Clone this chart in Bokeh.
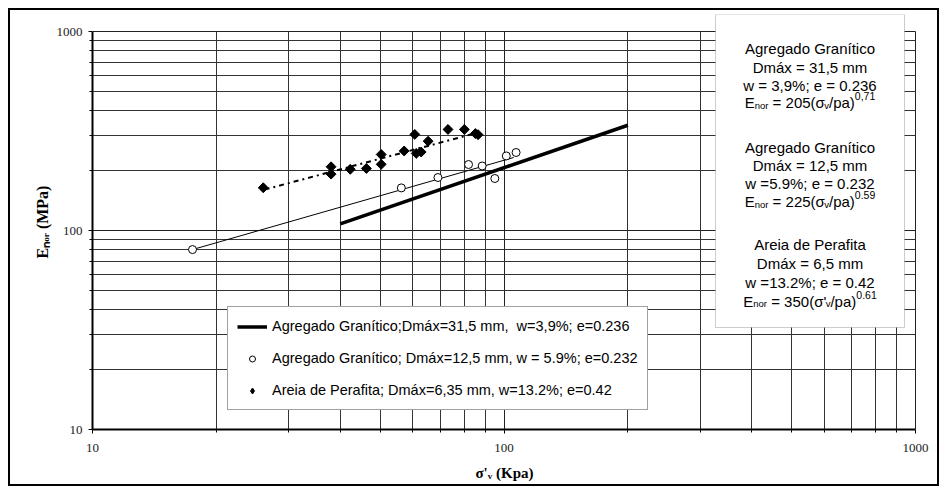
import math
from bokeh.plotting import figure
from bokeh.models import (FixedTicker, Label, BoxAnnotation, Legend, LegendItem, Range1d)
from bokeh.embed import file_html
from bokeh.resources import INLINE

# ---------------- data ----------------
circ_x = [17.5, 56.3, 69.1, 82.0, 88.5, 95.0, 101.3, 107.0]
circ_y = [80.2, 163.7, 184.6, 214.6, 211.0, 182.5, 237.0, 246.6]

diam_x = [26.0, 38.0, 38.0, 42.3, 46.3, 50.3, 50.3, 57.2, 60.7, 61.2, 62.9, 65.4, 73.1, 80.1, 85.2, 86.5]
diam_y = [164, 209, 192, 203, 205, 241, 215, 251, 304, 244, 248, 281, 322, 322, 307, 303]

thick_x = [40.0, 200.0]
thick_y = [108.0, 338.0]
thin_x = [17.5, 105.6]
thin_y = [80.2, 232.8]
dash_x = [26.2, 86.0]
dash_y = [160.6, 309.6]

major_ticks = [10, 100, 1000]
minor_ticks = [20, 30, 40, 50, 60, 70, 80, 90, 200, 300, 400, 500, 600, 700, 800, 900]
tick_labels = ["10", "100", "1000"]

x_title = "σ'ᵥ (Kpa)"
y_title = "Eₙₒᵣ (MPa)"

legend_labels = [
    "Agregado Granítico;Dmáx=31,5 mm,  w=3,9%; e=0.236",
    "Agregado Granítico; Dmáx=12,5 mm, w = 5.9%; e=0.232",
    "Areia de Perafita; Dmáx=6,35 mm, w=13.2%; e=0.42",
]

box_groups = [
    ["Agregado Granítico", "Dmáx = 31,5 mm", "w = 3,9%; e = 0.236",
     [("E", "n"), ("nor", "sub"), (" = 205(σ", "n"), ("v", "sub"), ("/pa)", "n"), ("0,71", "sup")]],
    ["Agregado Granítico", "Dmáx = 12,5 mm", "w =5.9%; e = 0.232",
     [("E", "n"), ("nor", "sub"), (" = 225(σ", "n"), ("v", "sub"), ("/pa)", "n"), ("0.59", "sup")]],
    ["Areia de Perafita", "Dmáx = 6,5 mm", "w =13.2%; e = 0.42",
     [("E", "n"), ("nor", "sub"), (" = 350(σ'", "n"), ("v", "sub"), ("/pa)", "n"), ("0.61", "sup")]],
]

# ---------------- layout constants ----------------
W, H = 947, 494
FL, FR, FB = 92, 916, 429          # frame left/right/bottom (canvas px)
FT = 14                            # frame top (room for the text box)
X10, X1000 = 92, 915               # pixel of x = 10 and x = 1000
Y1000 = 31                         # pixel of y = 1000
dec_x = (X1000 - X10) / 2.0
dec_y = (FB - Y1000) / 2.0
x_end = 10 ** (1 + (FR - X10) / dec_x)
y_end = 10 ** (1 + (FB - FT) / dec_y)

p = figure(width=W, height=H, x_axis_type="log", y_axis_type="log",
           x_range=Range1d(10, x_end), y_range=Range1d(10, y_end),
           output_backend="svg", toolbar_location=None,
           min_border_left=FL, min_border_right=W - FR,
           min_border_top=FT, min_border_bottom=H - FB)
p.background_fill_color = "white"
p.border_fill_color = None
p.outline_line_color = None
p.styles = {"background-color": "white",
            "box-shadow": "inset 0 0 0 8px white, inset 0 0 0 10px black"}

tk = FixedTicker(ticks=major_ticks, minor_ticks=minor_ticks)
for ax in (p.xaxis[0], p.yaxis[0]):
    ax.ticker = tk
    ax.bounds = (10, 1000)
    ax.axis_line_width = 2
    ax.axis_line_color = "black"
    ax.major_tick_out = 4
    ax.major_tick_in = 0
    ax.minor_tick_out = 3
    ax.minor_tick_in = 0
    ax.major_tick_line_color = "black"
    ax.minor_tick_line_color = "black"
    ax.major_label_text_font = "Liberation Serif"
    ax.major_label_text_font_size = "13px"
    ax.major_label_text_color = "#222222"
    ax.major_label_overrides = {t: s for t, s in zip(major_ticks, tick_labels)}
    ax.axis_label_text_font = "Liberation Serif"
    ax.axis_label_text_font_style = "bold"
    ax.axis_label_text_color = "black"
p.xaxis.major_label_standoff = 10
p.yaxis.major_label_standoff = 6
p.xaxis.axis_label = x_title
p.xaxis.axis_label_text_font_size = "15px"
p.xaxis.axis_label_standoff = 10
p.yaxis.axis_label = y_title
p.yaxis.axis_label_text_font_size = "16px"
p.yaxis.axis_label_standoff = 3

for g in (p.xgrid[0], p.ygrid[0]):
    g.ticker = tk
    g.grid_line_color = "#222222"
    g.grid_line_width = 1
    g.minor_grid_line_color = "#333333"
    g.minor_grid_line_width = 1
try:
    p.xgrid[0].cross_bounds = (10, 1000)
    p.ygrid[0].cross_bounds = (10, 1000)
except Exception as e:
    print("no cross_bounds", e)

# ---------------- data marks ----------------
thin = p.line(thin_x, thin_y, line_color="black", line_width=1)
thick = p.line(thick_x, thick_y, line_color="black", line_width=3.5)
dash = p.line(dash_x, dash_y, line_color="black", line_width=2, line_dash="5 4 2 4")
circ = p.scatter(circ_x, circ_y, marker="circle", size=8, fill_color="white",
                 line_color="black", line_width=1)
# diamond-shaped key for the legend (drawn beneath the plotted diamonds)
diam_key = p.scatter(diam_x, diam_y, marker="diamond", size=8,
                     fill_color="black", line_color="black")
diam = p.scatter(diam_x, diam_y, marker="square", angle=math.pi / 4, size=7,
                 fill_color="black", line_color="black")

legend = Legend(items=[LegendItem(label=legend_labels[0], renderers=[thick]),
                       LegendItem(label=legend_labels[1], renderers=[circ]),
                       LegendItem(label=legend_labels[2], renderers=[diam_key])],
                location=(227 - FL, FB - 410), margin=0, padding=9, spacing=12,
                glyph_width=30, glyph_height=15, label_height=20, label_standoff=5,
                label_text_font="Liberation Sans", label_text_font_size="14.5px",
                label_text_color="black", border_line_color="#444444",
                border_line_width=1, background_fill_color="white",
                background_fill_alpha=1.0)
p.add_layout(legend)

# ---------------- helpers for screen positioned text ----------------
def sx(cx):
    return cx - FL

def sy(cy):
    return FB - cy

SANS = {' ': 278, '(': 333, ')': 333, ',': 278, '.': 278, '/': 278, ';': 278,
        '=': 584, '%': 889, "'": 191, 'E': 667, 'n': 556, 'o': 556, 'r': 333,
        'p': 556, 'a': 556, 'v': 500, 'σ': 580}

def wsans(t, size):
    return sum(SANS.get(c, 556) for c in t) * size / 1000.0

# text box
BOX_L, BOX_R, BOX_T, BOX_B = 715, 904, 14, 327
p.add_layout(BoxAnnotation(left=sx(BOX_L), right=sx(BOX_R), top=sy(BOX_T), bottom=sy(BOX_B),
                           left_units="screen", right_units="screen",
                           top_units="screen", bottom_units="screen",
                           fill_color="white", fill_alpha=1.0,
                           line_color="#555555", line_width=1))

baselines = [[48.3, 66.7, 84.5, 102.0], [146.7, 165.0, 183.0, 201.0], [244.3, 262.7, 281.5, 300.5]]
CX = (BOX_L + BOX_R) / 2.0
BASE, SUB, SUP = 15, 9.5, 10.5
for grp, bls in zip(box_groups, baselines):
    for line, bl in zip(grp[:3], bls[:3]):
        p.add_layout(Label(x=sx(CX), y=sy(bl), x_units="screen", y_units="screen",
                           text=line, text_align="center", text_baseline="alphabetic",
                           text_font="Liberation Sans", text_font_size=f"{BASE}px",
                           text_color="black"))
    segs = grp[3]
    sizes = [BASE if k == "n" else (SUB if k == "sub" else SUP) for _, k in segs]
    widths = [wsans(t, s) for (t, _), s in zip(segs, sizes)]
    x0 = CX - sum(widths) / 2.0
    for (t, k), s, w in zip(segs, sizes, widths):
        off = {"n": 0, "sub": 2.5, "sup": -6.5}[k]
        lead = len(t) - len(t.lstrip(" "))
        shift = wsans(" " * lead, s)
        p.add_layout(Label(x=sx(x0 + shift), y=sy(bls[3] + off), x_units="screen", y_units="screen",
                           text=t.lstrip(" "), text_align="left", text_baseline="alphabetic",
                           text_font="Liberation Sans", text_font_size=f"{s}px",
                           text_color="black"))
        x0 += w

open("out.html", "w").write(file_html(p, INLINE))
